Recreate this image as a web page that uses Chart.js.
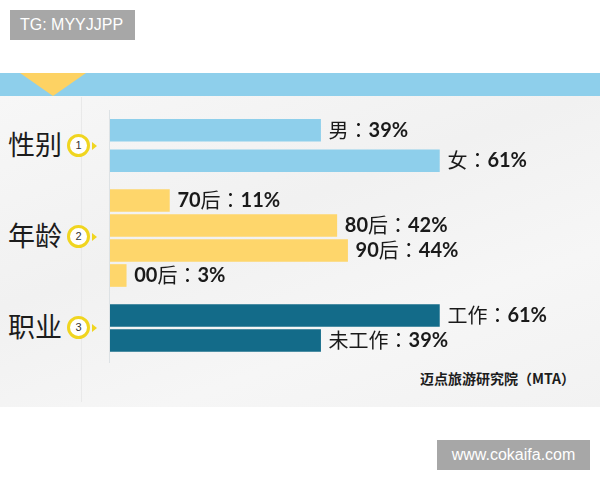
<!DOCTYPE html>
<html>
<head>
<meta charset="utf-8">
<script src="https://cdn.jsdelivr.net/npm/chart.js@4/dist/chart.umd.min.js"></script>
<style>
  html, body { margin: 0; padding: 0; width: 600px; height: 480px; overflow: hidden; background: #fff; font-family: "Noto Sans CJK SC", sans-serif; }
  .abs { position: absolute; }
  .tag { background: #a7a7a7; color: #fff; font: 16px "Liberation Sans", Arial, sans-serif; line-height: 30px; box-sizing: border-box; }
  .band { left: 0; top: 73px; width: 600px; height: 23px; background: #8ecfeb; }
  .tri { left: 20px; top: 73px; width: 0; height: 0; border-left: 33px solid transparent; border-right: 33px solid transparent; border-top: 23px solid #fdd263; }
  .panel { left: 0; top: 96px; width: 600px; height: 311px; background: linear-gradient(160deg, #f7f7f7 0%, #f1f1f1 40%, #f6f6f6 70%, #f2f2f2 100%); }
  .title { font-size: 27px; color: #1c1c1c; line-height: 30px; }
  .ring { width: 17px; height: 17px; border: 3.5px solid #f0d520; border-radius: 50%; background: #fff; font: 11px "Liberation Sans", Arial, sans-serif; color: #333; text-align: center; line-height: 17px; }
  .arrow { width: 0; height: 0; border-top: 4px solid transparent; border-bottom: 4px solid transparent; border-left: 5px solid #f0d520; }
  .box { left: 110px; width: 490px; }
</style>
</head>
<body>
<div class="abs tag" style="left:10px;top:10px;width:125px;height:30px;padding-left:10px;">TG: MYYJJPP</div>
<div class="abs band"></div>
<div class="abs tri"></div>
<div class="abs panel"></div>
<div class="abs" style="left:81px;top:97px;width:1px;height:305px;background:#e9e9e9;"></div>
<div class="abs" style="left:109px;top:110px;width:1px;height:253px;background:#dde2e5;"></div>

<div id="groups"></div>

<div class="abs box" style="top:115px;height:61px;"><canvas id="genderChart"></canvas></div>
<div class="abs box" style="top:188px;height:100px;"><canvas id="ageChart"></canvas></div>
<div class="abs box" style="top:303px;height:50px;"><canvas id="jobChart"></canvas></div>

<div class="abs" style="left:420px;top:368px;font-size:14px;font-weight:bold;color:#1c1c1c;">迈点旅游研究院（MTA）</div>
<div class="abs tag" style="left:437px;top:440px;width:153px;height:30px;text-align:center;">www.cokaifa.com</div>

<script>
// group titles on the left
const groupTitles = ['性别', '年龄', '职业'];
const groupCenters = [146, 237, 328];

// data (percent)
const genderLabels = ['男', '女'];
const genderValues = [39, 61];
const ageLabels = ['70后', '80后', '90后', '00后'];
const ageValues = [11, 42, 44, 3];
const jobLabels = ['工作', '未工作'];
const jobValues = [61, 39];

const groupsEl = document.getElementById('groups');
groupTitles.forEach((t, i) => {
  const cy = groupCenters[i];
  groupsEl.insertAdjacentHTML('beforeend',
    `<div class="abs title" style="left:8px;top:${cy - 17}px;">${t}</div>` +
    `<div class="abs ring" style="left:67px;top:${cy - 12}px;">${i + 1}</div>` +
    `<div class="abs arrow" style="left:92px;top:${cy - 4}px;"></div>`);
});

// write the label as runs: latin/digits bold, CJK regular, colon centred
function drawRuns(ctx, text, x, y) {
  const runs = text.match(/[\x00-\x7F]+|：|[^\x00-\x7F：]+/g);
  runs.forEach(r => {
    if (/[\x00-\x7F]/.test(r)) ctx.font = 'bold 20px Lato, "Noto Sans CJK SC"';
    else if (r === '：') ctx.font = '20px "Noto Sans CJK TC"';
    else ctx.font = '20px "Noto Sans CJK SC"';
    ctx.fillText(r, x, y);
    x += ctx.measureText(r).width;
  });
}

const valueLabels = {
  id: 'valueLabels',
  afterDatasetsDraw(chart) {
    const ctx = chart.ctx;
    const meta = chart.getDatasetMeta(0);
    ctx.save();
    ctx.fillStyle = '#1a1a1a';
    ctx.textBaseline = 'middle';
    meta.data.forEach((bar, i) => {
      const text = chart.data.labels[i] + '：' + chart.data.datasets[0].data[i] + '%';
      drawRuns(ctx, text, bar.x + 8, bar.y);
    });
    ctx.restore();
  }
};

function makeChart(id, labels, values, color) {
  return new Chart(document.getElementById(id), {
    type: 'bar',
    data: {
      labels: labels,
      datasets: [{ data: values, backgroundColor: color, barThickness: 22 }]
    },
    options: {
      indexAxis: 'y',
      responsive: true,
      maintainAspectRatio: false,
      animation: false,
      layout: { padding: { right: 58 } },
      plugins: { legend: { display: false }, tooltip: { enabled: false } },
      scales: {
        x: { min: 0, max: 80, display: false },
        y: { display: false }
      }
    },
    plugins: [valueLabels]
  });
}

makeChart('genderChart', genderLabels, genderValues, '#8ecfeb');
makeChart('ageChart', ageLabels, ageValues, '#fed66b');
makeChart('jobChart', jobLabels, jobValues, '#136b89');
</script>
</body>
</html>
